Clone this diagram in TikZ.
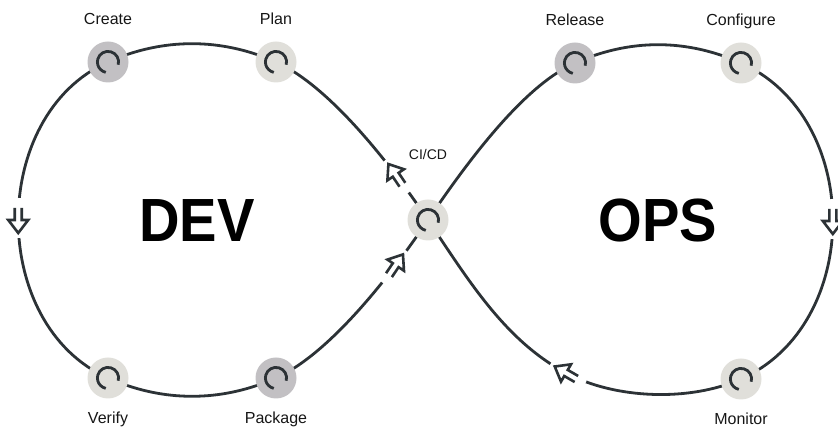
\documentclass[tikz,border=0pt]{standalone}
\usepackage{fontspec}
\setmainfont{Liberation Sans}
\newfontfamily\loopfont[FakeStretch=0.92]{Liberation Sans}
\usetikzlibrary{backgrounds,calc,positioning}

\definecolor{loopline}{HTML}{2C3236}
\definecolor{stagedark}{HTML}{C2C0C3}
\definecolor{stagelight}{HTML}{E0DFDA}
\definecolor{labeltext}{HTML}{161616}

% open outlined arrow sitting in a gap of the loop
\newcommand{\flowarrow}[2]{%
  \fill[white] (#1) ++(#2+180:2) circle[radius=20];
  \begin{scope}[shift={(#1)}, rotate=#2]
    \draw[flowtip] (-12,3.5) -- (0,3.5) -- (0,10) -- (13,0) -- (0,-10) -- (0,-3.5) -- (-12,-3.5);
  \end{scope}
}

\begin{document}
\begin{tikzpicture}[
    x=1pt, y=1pt,
    stage/.style={circle, minimum size=41pt, inner sep=0pt, fill=stagelight,
      path picture={\draw[line width=3.2pt, loopline]
        ([shift={(-15:10.6pt)}]path picture bounding box.center)
        arc[start angle=-15, end angle=258, radius=10.6pt];}},
    stagelabel/.style={font=\fontsize{16}{19}\selectfont, text=labeltext,
      text height=11.5pt, text depth=3.3pt, inner sep=0pt},
    labelup/.style={stagelabel, yshift=13.6pt},
    labeldown/.style={stagelabel, yshift=-13.6pt},
    looptitle/.style={font=\loopfont\bfseries\fontsize{61}{70}\selectfont, inner sep=0pt},
    loopline/.style={draw=loopline, line width=2.8pt},
    flowtip/.style={draw=loopline, line width=2.6pt, line join=miter}
  ]
  \useasboundingbox (0,0) rectangle (838,427);

  % stages around the loop
  \node[stage] (cicd) at (428,207) {};
  \node[stage, label={[labelup]above:Plan}] (plan) at (276,365) {};
  \node[stage, fill=stagedark, label={[labelup]above:Create}] (create) at (108,365) {};
  \node[stage, label={[labeldown]below:Verify}] (verify) at (108,49) {};
  \node[stage, fill=stagedark, label={[labeldown]below:Package}] (package) at (276,49) {};
  \node[stage, fill=stagedark, label={[labelup]above:Release}] (release) at (575,364) {};
  \node[stage, label={[labelup]above:Configure}] (configure) at (741,364) {};
  \node[stage, label={[labeldown]below:Monitor}] (monitor) at (741,48) {};
  \coordinate (opsback) at (566,54);

  \node[stagelabel, font=\fontsize{14}{17}\selectfont, above=36pt of cicd] (cicdlabel) {CI/CD};
  \node[looptitle] (dev) at (197,206) {DEV};
  \node[looptitle] (ops) at (658,206) {OPS};

  % the figure-eight
  \begin{scope}[on background layer]
    \draw[loopline]
      (cicd.center) .. controls +(124:90) and +(-24:50) .. (plan.center)
        coordinate[pos=0.21] (devup)
      .. controls +(156:60) and +(24:60) .. (create.center)
      .. controls +(204:131) and +(156:131) .. (verify.center)
        coordinate[pos=0.5] (devleft)
      .. controls +(-24:60) and +(204:60) .. (package.center)
      .. controls +(24:50) and +(236:90) .. (cicd.center)
        coordinate[pos=0.79] (devdown)
      .. controls +(56:90) and +(204:50) .. (release.center)
      .. controls +(24:60) and +(156:60) .. (configure.center)
      .. controls +(-24:134) and +(24:134) .. (monitor.center)
        coordinate[pos=0.5] (opsright)
      .. controls +(204:56) and +(-28:56) .. (opsback)
      .. controls +(152:70) and +(-56:70) .. (cicd.center);
  \end{scope}

  \flowarrow{devup}{124}
  \flowarrow{devleft}{-90}
  \flowarrow{devdown}{56}
  \flowarrow{opsright}{-90}
  \flowarrow{opsback}{150}
\end{tikzpicture}
\end{document}
